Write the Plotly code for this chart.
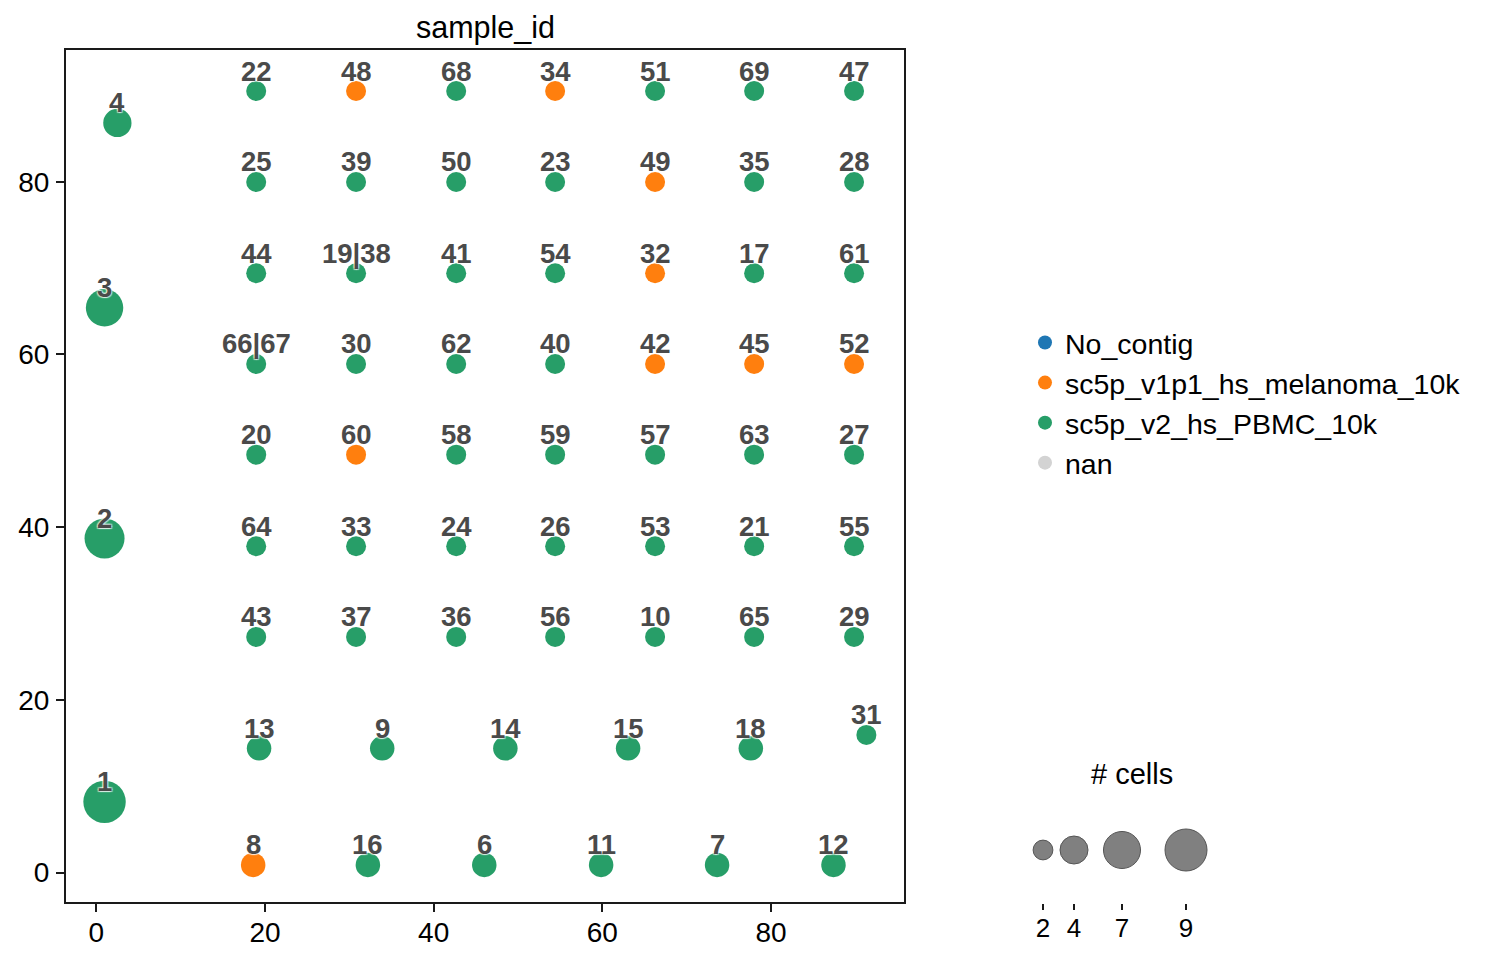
import plotly.graph_objects as go

# ---------------- data ----------------
node_labels = [
    "4", "3", "2", "1",
    "22", "48", "68", "34", "51", "69", "47",
    "25", "39", "50", "23", "49", "35", "28",
    "44", "19|38", "41", "54", "32", "17", "61",
    "66|67", "30", "62", "40", "42", "45", "52",
    "20", "60", "58", "59", "57", "63", "27",
    "64", "33", "24", "26", "53", "21", "55",
    "43", "37", "36", "56", "10", "65", "29",
    "13", "9", "14", "15", "18", "31",
    "8", "16", "6", "11", "7", "12",
]
node_x = [
    2.5, 0.98, 0.98, 0.98,
    18.96, 30.8, 42.67, 54.4, 66.25, 77.99, 89.84,
    18.96, 30.8, 42.67, 54.4, 66.25, 77.99, 89.84,
    18.96, 30.8, 42.67, 54.4, 66.25, 77.99, 89.84,
    18.96, 30.8, 42.67, 54.4, 66.25, 77.99, 89.84,
    18.96, 30.8, 42.67, 54.4, 66.25, 77.99, 89.84,
    18.96, 30.8, 42.67, 54.4, 66.25, 77.99, 89.84,
    18.96, 30.8, 42.67, 54.4, 66.25, 77.99, 89.84,
    19.3, 33.9, 48.5, 63.05, 77.6, 91.3,
    18.6, 32.2, 46.0, 59.85, 73.6, 87.4,
]
node_y = [
    86.8, 65.4, 38.7, 8.2,
    90.5, 90.5, 90.5, 90.5, 90.5, 90.5, 90.5,
    79.97, 79.97, 79.97, 79.97, 79.97, 79.97, 79.97,
    69.4, 69.4, 69.4, 69.4, 69.4, 69.4, 69.4,
    58.9, 58.9, 58.9, 58.9, 58.9, 58.9, 58.9,
    48.4, 48.4, 48.4, 48.4, 48.4, 48.4, 48.4,
    37.8, 37.8, 37.8, 37.8, 37.8, 37.8, 37.8,
    27.3, 27.3, 27.3, 27.3, 27.3, 27.3, 27.3,
    14.4, 14.4, 14.4, 14.4, 14.4, 15.95,
    0.9, 0.9, 0.9, 0.9, 0.9, 0.9,
]
node_cells = [
    4, 7, 8, 9,
    2, 2, 2, 2, 2, 2, 2,
    2, 2, 2, 2, 2, 2, 2,
    2, 2, 2, 2, 2, 2, 2,
    2, 2, 2, 2, 2, 2, 2,
    2, 2, 2, 2, 2, 2, 2,
    2, 2, 2, 2, 2, 2, 2,
    2, 2, 2, 2, 2, 2, 2,
    3, 3, 3, 3, 3, 2,
    3, 3, 3, 3, 3, 3,
]
M = "sc5p_v1p1_hs_melanoma_10k"
P = "sc5p_v2_hs_PBMC_10k"
node_sample = [
    P, P, P, P,
    P, M, P, M, P, P, P,
    P, P, P, P, M, P, P,
    P, P, P, P, M, P, P,
    P, P, P, P, M, M, M,
    P, M, P, P, P, P, P,
    P, P, P, P, P, P, P,
    P, P, P, P, P, P, P,
    P, P, P, P, P, P,
    M, P, P, P, P, P,
]

categories = ["No_contig", M, P, "nan"]
category_colors = ["#1f77b4", "#ff7f0e", "#279e68", "#d3d3d3"]

size_legend_values = [2, 4, 7, 9]
size_legend_labels = ["2", "4", "7", "9"]

x_ticks = [0, 20, 40, 60, 80]
y_ticks = [0, 20, 40, 60, 80]

# ---------------- styling / layout ----------------
FONT = "Liberation Sans, Arial, Helvetica, sans-serif"
SIZEREF = 1.0 / 100.0          # area mode -> diameter ~ 14 * sqrt(n cells)
W, H = 1487, 964
ML, MR, MT, MB = 66, 10, 50, 10
PW, PH = W - ML - MR, H - MT - MB

def px_x(p):
    return (p - ML) / PW

def px_y(p):
    return (H - MB - p) / PH

size_legend_x = [33, 64, 112, 176]   # layout positions within the size-legend axis

fig = go.Figure()

for cat, col in zip(categories, category_colors):
    idx = [i for i, s in enumerate(node_sample) if s == cat]
    if idx:
        fig.add_trace(go.Scatter(
            x=[node_x[i] for i in idx],
            y=[node_y[i] for i in idx],
            mode="markers",
            marker=dict(size=[node_cells[i] for i in idx], sizemode="area",
                        sizeref=SIZEREF, color=col, opacity=1, line=dict(width=0)),
            showlegend=False, hoverinfo="skip", cliponaxis=False,
        ))
    # legend entry
    fig.add_trace(go.Scatter(
        x=[None], y=[None], mode="markers", name=cat,
        marker=dict(size=14, color=col, opacity=1, line=dict(width=0)),
        showlegend=True,
    ))

# node labels
halo = ("1px 1px 1px rgba(255,255,255,0.6), -1px -1px 1px rgba(255,255,255,0.6), "
        "1px -1px 1px rgba(255,255,255,0.6), -1px 1px 1px rgba(255,255,255,0.6)")
for lab, x, y in zip(node_labels, node_x, node_y):
    fig.add_annotation(
        x=x, y=y, xref="x", yref="y", text=lab, showarrow=False,
        xanchor="center", yanchor="middle", yshift=20,
        font=dict(family=FONT, size=27.5, color="#4a4a4a", weight="bold", shadow=halo),
    )

# size legend
fig.add_trace(go.Scatter(
    x=size_legend_x, y=[53] * len(size_legend_x),
    xaxis="x2", yaxis="y2", mode="markers",
    marker=dict(size=size_legend_values, sizemode="area", sizeref=1.0 / 98.0,
                color="#808080", opacity=1, line=dict(width=1, color="#555555")),
    showlegend=False, hoverinfo="skip", cliponaxis=False,
))

fig.add_annotation(
    x=px_x(1131.5), y=px_y(774), xref="paper", yref="paper",
    text="# cells", showarrow=False, xanchor="center", yanchor="middle",
    font=dict(family=FONT, size=29, color="black"),
)

# title
fig.add_annotation(
    x=px_x(485), y=1, xref="paper", yref="paper", text="sample_id",
    showarrow=False, xanchor="center", yanchor="bottom", yshift=3,
    font=dict(family=FONT, size=30.5, color="black"),
)

axis_common = dict(
    showgrid=False, zeroline=False, showline=True, mirror=True,
    linecolor="#1a1a1a", linewidth=2, ticks="outside", ticklen=8,
    tickwidth=2, tickcolor="#1a1a1a",
    tickfont=dict(family=FONT, size=28, color="black"),
)

fig.update_layout(
    width=W, height=H,
    margin=dict(l=ML, r=MR, t=MT, b=MB, autoexpand=False),
    paper_bgcolor="white", plot_bgcolor="white",
    xaxis=dict(domain=[0, px_x(904)], range=[-3.59, 95.76],
               tickvals=x_ticks, ticklabelstandoff=-4, **axis_common),
    yaxis=dict(domain=[px_y(902.3), 1], range=[-3.43, 95.25],
               tickvals=y_ticks, ticklabelstandoff=1, **axis_common),
    xaxis2=dict(domain=[px_x(1010), px_x(1210)], range=[0, 200], anchor="y2",
                showgrid=False, zeroline=False, showline=False,
                tickvals=size_legend_x, ticktext=size_legend_labels,
                ticks="outside", ticklen=6, tickwidth=2, tickcolor="#1a1a1a",
                ticklabelstandoff=-4,
                tickfont=dict(family=FONT, size=26, color="black"),
                fixedrange=True),
    yaxis2=dict(domain=[px_y(903), px_y(800)], range=[0, 103], anchor="x2",
                visible=False, fixedrange=True),
    legend=dict(x=px_x(1025), y=px_y(403), xanchor="left", yanchor="middle",
                font=dict(family=FONT, size=28.5, color="black"),
                bgcolor="rgba(0,0,0,0)", borderwidth=0),
    showlegend=True,
)

fig.write_html("out.html")
